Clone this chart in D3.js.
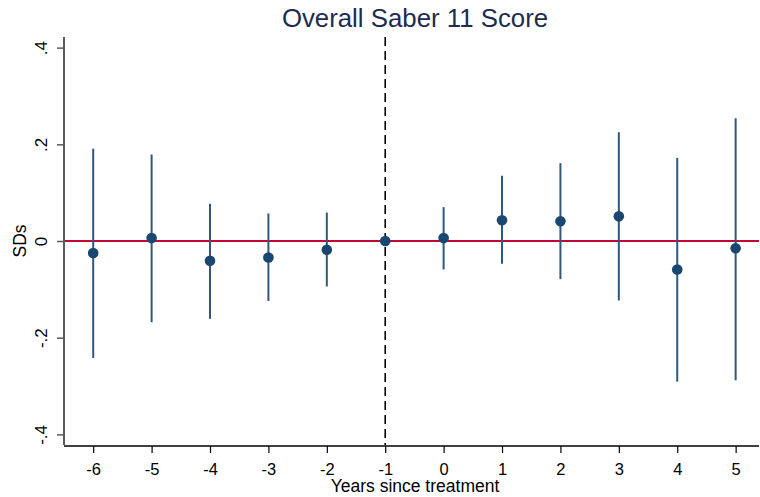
<!DOCTYPE html>
<html>
<head>
<meta charset="utf-8">
<script src="https://cdn.jsdelivr.net/npm/d3@7"></script>
<style>
  html, body { margin: 0; padding: 0; background: #fff; }
  svg { display: block; }
  text { font-family: "Liberation Sans", Arial, sans-serif; }
</style>
</head>
<body>
<svg id="chart" width="760" height="497"></svg>
<script>
// Event-study estimates: coefficient and 95% CI by year relative to treatment
const years  = [-6, -5, -4, -3, -2, -1, 0, 1, 2, 3, 4, 5];
const coef   = [-0.025, 0.006, -0.041, -0.034, -0.018, 0, 0.006, 0.043, 0.041, 0.051, -0.059, -0.015];
const ciLow  = [-0.242, -0.168, -0.161, -0.124, -0.094, null, -0.059, -0.047, -0.079, -0.123, -0.291, -0.288];
const ciHigh = [0.191, 0.179, 0.077, 0.057, 0.059, null, 0.070, 0.135, 0.161, 0.225, 0.172, 0.254];
const yTicks = [-0.4, -0.2, 0, 0.2, 0.4];
const yTickLabels = ["-.4", "-.2", "0", ".2", ".4"];
const refYear = -1;

const svg = d3.select("#chart");
const plotL = 64, plotR = 759, plotT = 37, plotB = 445;

const x = d3.scaleLinear().domain([-6.5, 5.4]).range([plotL, plotR]);
const y = d3.scaleLinear().domain([-0.422, 0.422]).range([plotB, plotT]);

const navy = "#1a476f";
const ciColor = "#2f5880";

// Title
svg.append("text")
  .attr("x", 415).attr("y", 27)
  .attr("text-anchor", "middle")
  .attr("font-size", 25.8)
  .attr("fill", "#1e2c4e")
  .text("Overall Saber 11 Score");

// Y axis
const yAxis = svg.append("g")
  .attr("transform", `translate(${plotL},0)`)
  .call(d3.axisLeft(y).tickValues(yTicks)
    .tickFormat((d, i) => yTickLabels[i]).tickSize(7).tickPadding(0));
yAxis.select(".domain").attr("stroke", "#5a5a5a").attr("stroke-width", 2)
  .attr("d", `M0,${plotT}V${plotB}`);
yAxis.selectAll(".tick line").attr("stroke", "#5a5a5a").attr("stroke-width", 1.5);
yAxis.selectAll(".tick text")
  .attr("font-size", 17).attr("fill", "#000")
  .attr("font-family", "Liberation Sans, Arial, sans-serif")
  .attr("transform", "rotate(-90)")
  .attr("x", 0).attr("y", -17)
  .attr("dy", 0)
  .attr("text-anchor", "middle");

// X axis (plain hyphen for negatives)
const xAxis = svg.append("g")
  .attr("transform", `translate(0,${plotB + 1})`)
  .call(d3.axisBottom(x).tickValues(years).tickFormat(d => String(d)).tickSize(7).tickPadding(0));
xAxis.select(".domain").attr("stroke", "#000").attr("stroke-width", 1.5)
  .attr("d", `M${plotL},0H${plotR}`);
xAxis.selectAll(".tick line").attr("stroke", "#000").attr("stroke-width", 1.2);
xAxis.selectAll(".tick text")
  .attr("font-size", 16.5).attr("fill", "#000")
  .attr("font-family", "Liberation Sans, Arial, sans-serif")
  .attr("y", 28.5).attr("dy", 0);

// Axis titles
svg.append("text")
  .attr("x", 415).attr("y", 492)
  .attr("text-anchor", "middle")
  .attr("font-size", 17.5)
  .attr("fill", "#000")
  .text("Years since treatment");

svg.append("text")
  .attr("transform", `translate(26,${y(0)}) rotate(-90)`)
  .attr("text-anchor", "middle")
  .attr("font-size", 17.5)
  .attr("fill", "#000")
  .text("SDs");

// Zero reference line
svg.append("line")
  .attr("x1", plotL + 1).attr("x2", plotR)
  .attr("y1", y(0)).attr("y2", y(0))
  .attr("stroke", "#c10534").attr("stroke-width", 2);

// Treatment reference line
svg.append("line")
  .attr("x1", x(refYear)).attr("x2", x(refYear))
  .attr("y1", plotT).attr("y2", plotB)
  .attr("stroke", "#000").attr("stroke-width", 1.6)
  .attr("stroke-dasharray", "9,5");

// Confidence intervals
const rows = years.map((yr, i) => ({ yr, b: coef[i], lo: ciLow[i], hi: ciHigh[i] }));
svg.append("g").selectAll("line")
  .data(rows.filter(d => d.lo !== null))
  .join("line")
  .attr("x1", d => x(d.yr)).attr("x2", d => x(d.yr))
  .attr("y1", d => y(d.lo)).attr("y2", d => y(d.hi))
  .attr("stroke", ciColor).attr("stroke-width", 2);

// Point estimates
svg.append("g").selectAll("circle")
  .data(rows)
  .join("circle")
  .attr("cx", d => x(d.yr)).attr("cy", d => y(d.b))
  .attr("r", 5.3)
  .attr("fill", navy);
</script>
</body>
</html>
